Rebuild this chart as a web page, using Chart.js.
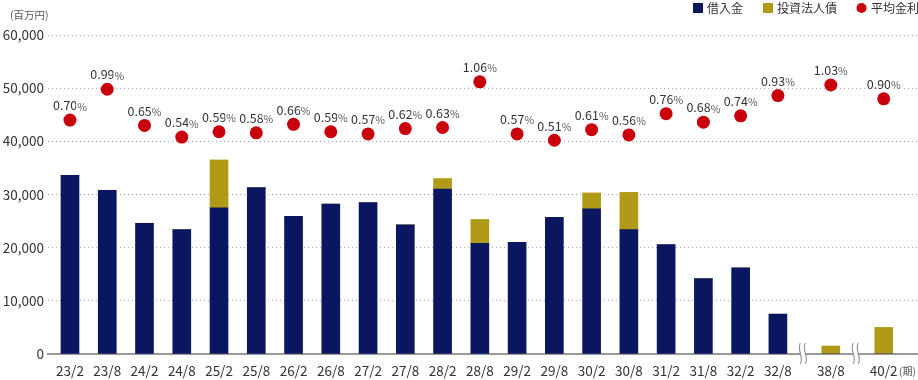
<!DOCTYPE html>
<html>
<head>
<meta charset="utf-8">
<script src="https://cdn.jsdelivr.net/npm/chart.js@4/dist/chart.umd.min.js"></script>
<style>
  body { margin: 0; background: #fff; }
  #wrap { width: 918px; height: 380px; position: relative; }
</style>
</head>
<body>
<div id="wrap"><canvas id="myChart"></canvas></div>
<script>
// period labels (fiscal period) on the x axis
const periods = ['23/2', '23/8', '24/2', '24/8', '25/2', '25/8', '26/2', '26/8', '27/2', '27/8',
  '28/2', '28/8', '29/2', '29/8', '30/2', '30/8', '31/2', '31/8', '32/2', '32/8', '38/8', '40/2'];
// 借入金 (million yen)
const loans = [33600, 30800, 24600, 23400, 27500, 31300, 25900, 28200, 28500, 24300,
  31000, 20800, 21000, 25700, 27300, 23400, 20600, 14200, 16200, 7500, 0, 0];
// 投資法人債 (million yen)
const bonds = [0, 0, 0, 0, 9000, 0, 0, 0, 0, 0,
  2000, 4500, 0, 0, 3000, 7000, 0, 0, 0, 0, 1500, 5000];
// 平均金利 (%)
const rates = [0.70, 0.99, 0.65, 0.54, 0.59, 0.58, 0.66, 0.59, 0.57, 0.62,
  0.63, 1.06, 0.57, 0.51, 0.61, 0.56, 0.76, 0.68, 0.74, 0.93, 1.03, 0.90];
// y axis ticks
const yTicks = [0, 10000, 20000, 30000, 40000, 50000, 60000];

const NAVY = '#0b1661';
const OLIVE = '#b19a18';
const RED = '#c9000c';
const FONT = "'Noto Sans CJK JP', 'Noto Sans', sans-serif";

// the periods after 32/8 sit closer together (axis is broken there)
const lastRegular = 19;
const breakStep = 1.42;
function slotOf(i) {
  return i <= lastRegular ? i : lastRegular + (i - lastRegular) * breakStep;
}
const breakSlots = [lastRegular + breakStep / 2, lastRegular + breakStep * 1.5];

function pts(values) {
  return values.map((v, i) => ({ x: slotOf(i), y: v }));
}

// draws legend, unit captions, rate labels and axis break marks
const extras = {
  id: 'extras',
  afterDatasetsDraw(chart) {
    const ctx = chart.ctx;
    const area = chart.chartArea;
    const xs = chart.scales.x;
    ctx.save();

    // axis break marks
    breakSlots.forEach(s => {
      const cx = xs.getPixelForValue(s);
      const top = area.bottom - 11, bot = area.bottom + 10;
      ctx.fillStyle = '#fff';
      ctx.beginPath();
      ctx.moveTo(cx - 4, top);
      ctx.bezierCurveTo(cx - 8, top + 7, cx, bot - 7, cx - 4, bot);
      ctx.lineTo(cx + 1, bot);
      ctx.bezierCurveTo(cx + 5, bot - 7, cx - 3, top + 7, cx + 1, top);
      ctx.closePath();
      ctx.fill();
      ctx.strokeStyle = '#999';
      ctx.lineWidth = 1.2;
      [-4, 1].forEach(d => {
        ctx.beginPath();
        ctx.moveTo(cx + d, top);
        ctx.bezierCurveTo(cx + d - 4, top + 7, cx + d + 4, bot - 7, cx + d, bot);
        ctx.stroke();
      });
    });

    // rate labels above the dots
    const meta = chart.getDatasetMeta(2);
    meta.data.forEach((p, i) => {
      const num = rates[i].toFixed(2);
      ctx.font = '12.5px ' + FONT;
      const w1 = ctx.measureText(num).width;
      ctx.font = '10.5px ' + FONT;
      const w2 = ctx.measureText('%').width;
      const x0 = p.x - (w1 + w2) / 2;
      const y0 = p.y - 14.5;
      ctx.textBaseline = 'middle';
      ctx.textAlign = 'left';
      ctx.lineWidth = 3;
      ctx.strokeStyle = '#fff';
      ctx.fillStyle = '#333';
      ctx.font = '12.5px ' + FONT;
      ctx.strokeText(num, x0, y0);
      ctx.fillText(num, x0, y0);
      ctx.font = '10.5px ' + FONT;
      ctx.fillStyle = '#555';
      ctx.strokeText('%', x0 + w1, y0 + 1);
      ctx.fillText('%', x0 + w1, y0 + 1);
    });

    // unit captions
    ctx.fillStyle = '#555';
    ctx.font = '10.5px ' + FONT;
    ctx.textAlign = 'left';
    ctx.textBaseline = 'middle';
    ctx.fillText('(百万円)', 10, 15);
    ctx.font = '10px ' + FONT;
    ctx.fillText('(期)', 899, 371);

    // legend
    ctx.font = '12px ' + FONT;
    ctx.fillStyle = NAVY;
    ctx.fillRect(693, 3, 10, 10);
    ctx.fillStyle = OLIVE;
    ctx.fillRect(763, 3, 10, 10);
    ctx.fillStyle = RED;
    ctx.beginPath();
    ctx.arc(861.5, 8, 5, 0, Math.PI * 2);
    ctx.fill();
    ctx.fillStyle = '#333';
    ctx.fillText('借入金', 707, 8.5);
    ctx.fillText('投資法人債', 777, 8.5);
    ctx.fillText('平均金利', 871, 8.5);

    ctx.restore();
  }
};

var ctx = document.getElementById('myChart').getContext('2d');
var myChart = new Chart(ctx, {
  type: 'bar',
  data: {
    datasets: [{
      label: '借入金',
      data: pts(loans),
      backgroundColor: NAVY,
      barThickness: 18,
      yAxisID: 'y',
      order: 2
    }, {
      label: '投資法人債',
      data: pts(bonds),
      backgroundColor: OLIVE,
      barThickness: 18,
      yAxisID: 'y',
      order: 2
    }, {
      type: 'line',
      label: '平均金利',
      data: pts(rates),
      showLine: false,
      pointRadius: 6.5,
      pointBackgroundColor: RED,
      pointBorderWidth: 0,
      yAxisID: 'y1',
      order: 1
    }]
  },
  options: {
    responsive: true,
    maintainAspectRatio: false,
    animation: false,
    layout: {
      autoPadding: false,
      padding: { top: 35, right: 0, bottom: 0, left: 0 }
    },
    plugins: {
      legend: { display: false },
      tooltip: { enabled: false }
    },
    scales: {
      x: {
        type: 'linear',
        stacked: true,
        offset: false,
        min: -0.59,
        max: 22.76,
        afterBuildTicks: axis => {
          axis.ticks = periods.map((p, i) => ({ value: slotOf(i) }));
        },
        afterFit: axis => { axis.height = 26; },
        ticks: {
          autoSkip: false,
          maxRotation: 0,
          padding: 9,
          color: '#333',
          font: { family: FONT, size: 13.5 },
          callback: (v, i) => periods[i]
        },
        grid: { display: false, drawTicks: false },
        border: { display: true, color: '#999', width: 2 }
      },
      y: {
        stacked: true,
        min: 0,
        max: 60000,
        afterBuildTicks: axis => {
          axis.ticks = yTicks.map(v => ({ value: v }));
        },
        afterFit: axis => { axis.width = 48; },
        ticks: {
          padding: 4,
          color: '#333',
          font: { family: FONT, size: 13.5 },
          callback: v => v.toLocaleString('en-US')
        },
        grid: { color: '#aaa', lineWidth: 1, drawTicks: false },
        border: { display: false, dash: [1, 3] }
      },
      y1: {
        display: false,
        min: -1.5,
        max: 1.5
      }
    }
  },
  plugins: [extras]
});
</script>
</body>
</html>
